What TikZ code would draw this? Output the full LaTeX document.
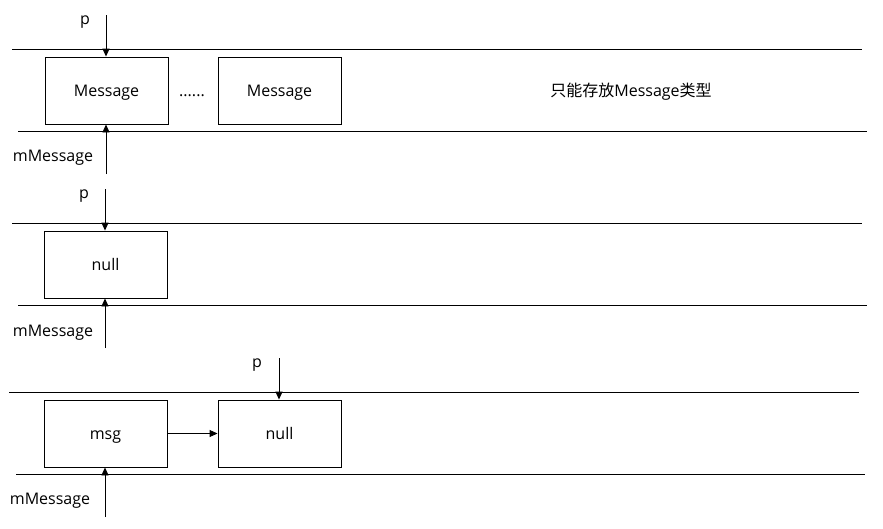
\documentclass[tikz,border=0pt]{standalone}
\usepackage{fontspec}
\setmainfont{Open Sans}
\newfontfamily\cjk{Noto Sans CJK SC}
\usetikzlibrary{arrows.meta}
\tikzset{
  txt/.style={font=\fontsize{16}{19}\selectfont, text height=11.5pt, text depth=0pt},
  box/.style={txt, draw, line width=0.9pt, minimum width=123pt, minimum height=67pt, inner sep=0pt},
  lbl/.style={txt, inner sep=0pt},
  rail/.style={line width=0.9pt},
  arr/.style={line width=0.9pt, -{Triangle[length=8pt,width=7pt]}}
}
\begin{document}
\begin{tikzpicture}[x=1pt,y=-1pt]
\path[use as bounding box] (0,0) rectangle (883,528);
% rails
\draw[rail] (12,49) -- (862,49);
\draw[rail] (18,131) -- (867,131);
\draw[rail] (12,223) -- (862,223);
\draw[rail] (18,305) -- (867,305);
\draw[rail] (9,392) -- (859,392);
\draw[rail] (16,474) -- (865,474);
% row 1
\node[box] (m1) at (106.5,90.5) {Message};
\node[box] (m2) at (279.5,90.5) {Message};
\node[lbl] (dots) at (192,91) {......};
\node[lbl] (note) at (631,91) {{\cjk 只能存放}Message{\cjk 类型}};
\node[lbl] (p1) at (85,19) {p};
\node[lbl] (mm1) at (53,156) {mMessage};
\coordinate (p1s) at (106,15);
\coordinate (mm1s) at (106,174);
\draw[arr] (p1s) -- (p1s |- m1.north);
\draw[arr] (mm1s) -- (mm1s |- m1.south);
% row 2
\node[box] (n2) at (105.5,264.5) {null};
\node[lbl] (p2) at (84,193) {p};
\node[lbl] (mm2) at (53,331) {mMessage};
\coordinate (p2s) at (105,189);
\coordinate (mm2s) at (105,348);
\draw[arr] (p2s) -- (p2s |- n2.north);
\draw[arr] (mm2s) -- (mm2s |- n2.south);
% row 3
\node[box] (msg) at (105.5,433.5) {msg};
\node[box] (n3) at (279.5,433.5) {null};
\node[lbl] (p3) at (257,362) {p};
\node[lbl] (mm3) at (50,499) {mMessage};
\coordinate (p3s) at (279,358);
\coordinate (mm3s) at (105,517);
\draw[arr] (p3s) -- (p3s |- n3.north);
\draw[arr] (mm3s) -- (mm3s |- msg.south);
\draw[arr] (msg.east) -- (n3.west);
\end{tikzpicture}
\end{document}
